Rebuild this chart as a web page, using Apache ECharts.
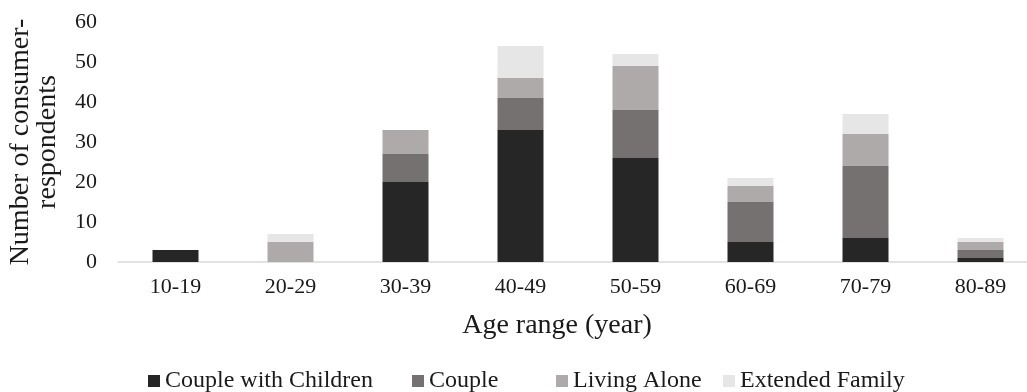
<!DOCTYPE html>
<html>
<head>
<meta charset="utf-8">
<script src="https://cdn.jsdelivr.net/npm/echarts@6/dist/echarts.min.js"></script>
<style>
  html, body { margin: 0; padding: 0; background: #fff; }
  #chart { width: 1027px; height: 392px; }
</style>
</head>
<body>
<div id="chart"></div>
<script>
// Respondents by age range, stacked by household type
const ageRanges = ['10-19', '20-29', '30-39', '40-49', '50-59', '60-69', '70-79', '80-89'];
const coupleWithChildren = [3, 0, 20, 33, 26, 5, 6, 1];
const couple             = [0, 0, 7, 8, 12, 10, 18, 2];
const livingAlone        = [0, 5, 6, 5, 11, 4, 8, 2];
const extendedFamily     = [0, 2, 0, 8, 3, 2, 5, 1];
const yTicks = [0, 10, 20, 30, 40, 50, 60];

const seriesDefs = [
  { name: 'Couple with Children', data: coupleWithChildren, color: '#262626' },
  { name: 'Couple',               data: couple,             color: '#767171' },
  { name: 'Living Alone',         data: livingAlone,        color: '#AEAAAA' },
  { name: 'Extended Family',      data: extendedFamily,     color: '#E7E6E6' }
];

// left edge of each legend entry's swatch
const legendLeft = [148, 412, 556, 723];

const font = '"Liberation Serif", "Times New Roman", serif';
const textColor = '#1a1a1a';

const chart = echarts.init(document.getElementById('chart'), null, { renderer: 'canvas' });
chart.setOption({
  animation: false,
  textStyle: { fontFamily: font, color: textColor },
  grid: { left: 118, top: 22, width: 920, bottom: 130, containLabel: false, outerBoundsMode: 'none' },
  legend: seriesDefs.map((s, i) => ({
    top: 369,
    left: legendLeft[i],
    padding: 0,
    itemWidth: 12,
    itemHeight: 12,
    icon: 'rect',
    textStyle: { fontFamily: font, fontSize: 24, color: textColor },
    data: [s.name]
  })),
  xAxis: {
    type: 'category',
    data: ageRanges,
    name: 'Age range (year)',
    nameLocation: 'middle',
    nameGap: 50,
    nameTextStyle: { fontFamily: font, fontSize: 28, color: textColor, padding: [0, 42, 0, 0] },
    axisLine: { show: true, lineStyle: { color: '#D9D9D9', width: 1.5 } },
    axisTick: { show: false },
    axisLabel: { margin: 14, fontFamily: font, fontSize: 22, color: textColor }
  },
  yAxis: {
    type: 'value',
    min: yTicks[0],
    max: yTicks[yTicks.length - 1],
    interval: 10,
    name: 'Number of consumer-\nrespondents',
    nameLocation: 'middle',
    nameRotate: 90,
    nameGap: 57,
    nameTextStyle: { fontFamily: font, fontSize: 28, color: textColor, lineHeight: 27 },
    axisLine: { show: false },
    axisTick: { show: false },
    splitLine: { show: false },
    axisLabel: { margin: 21, fontFamily: font, fontSize: 22, color: textColor }
  },
  series: seriesDefs.map(s => ({
    name: s.name,
    type: 'bar',
    stack: 'total',
    barWidth: 46,
    data: s.data,
    itemStyle: { color: s.color }
  }))
});
</script>
</body>
</html>
